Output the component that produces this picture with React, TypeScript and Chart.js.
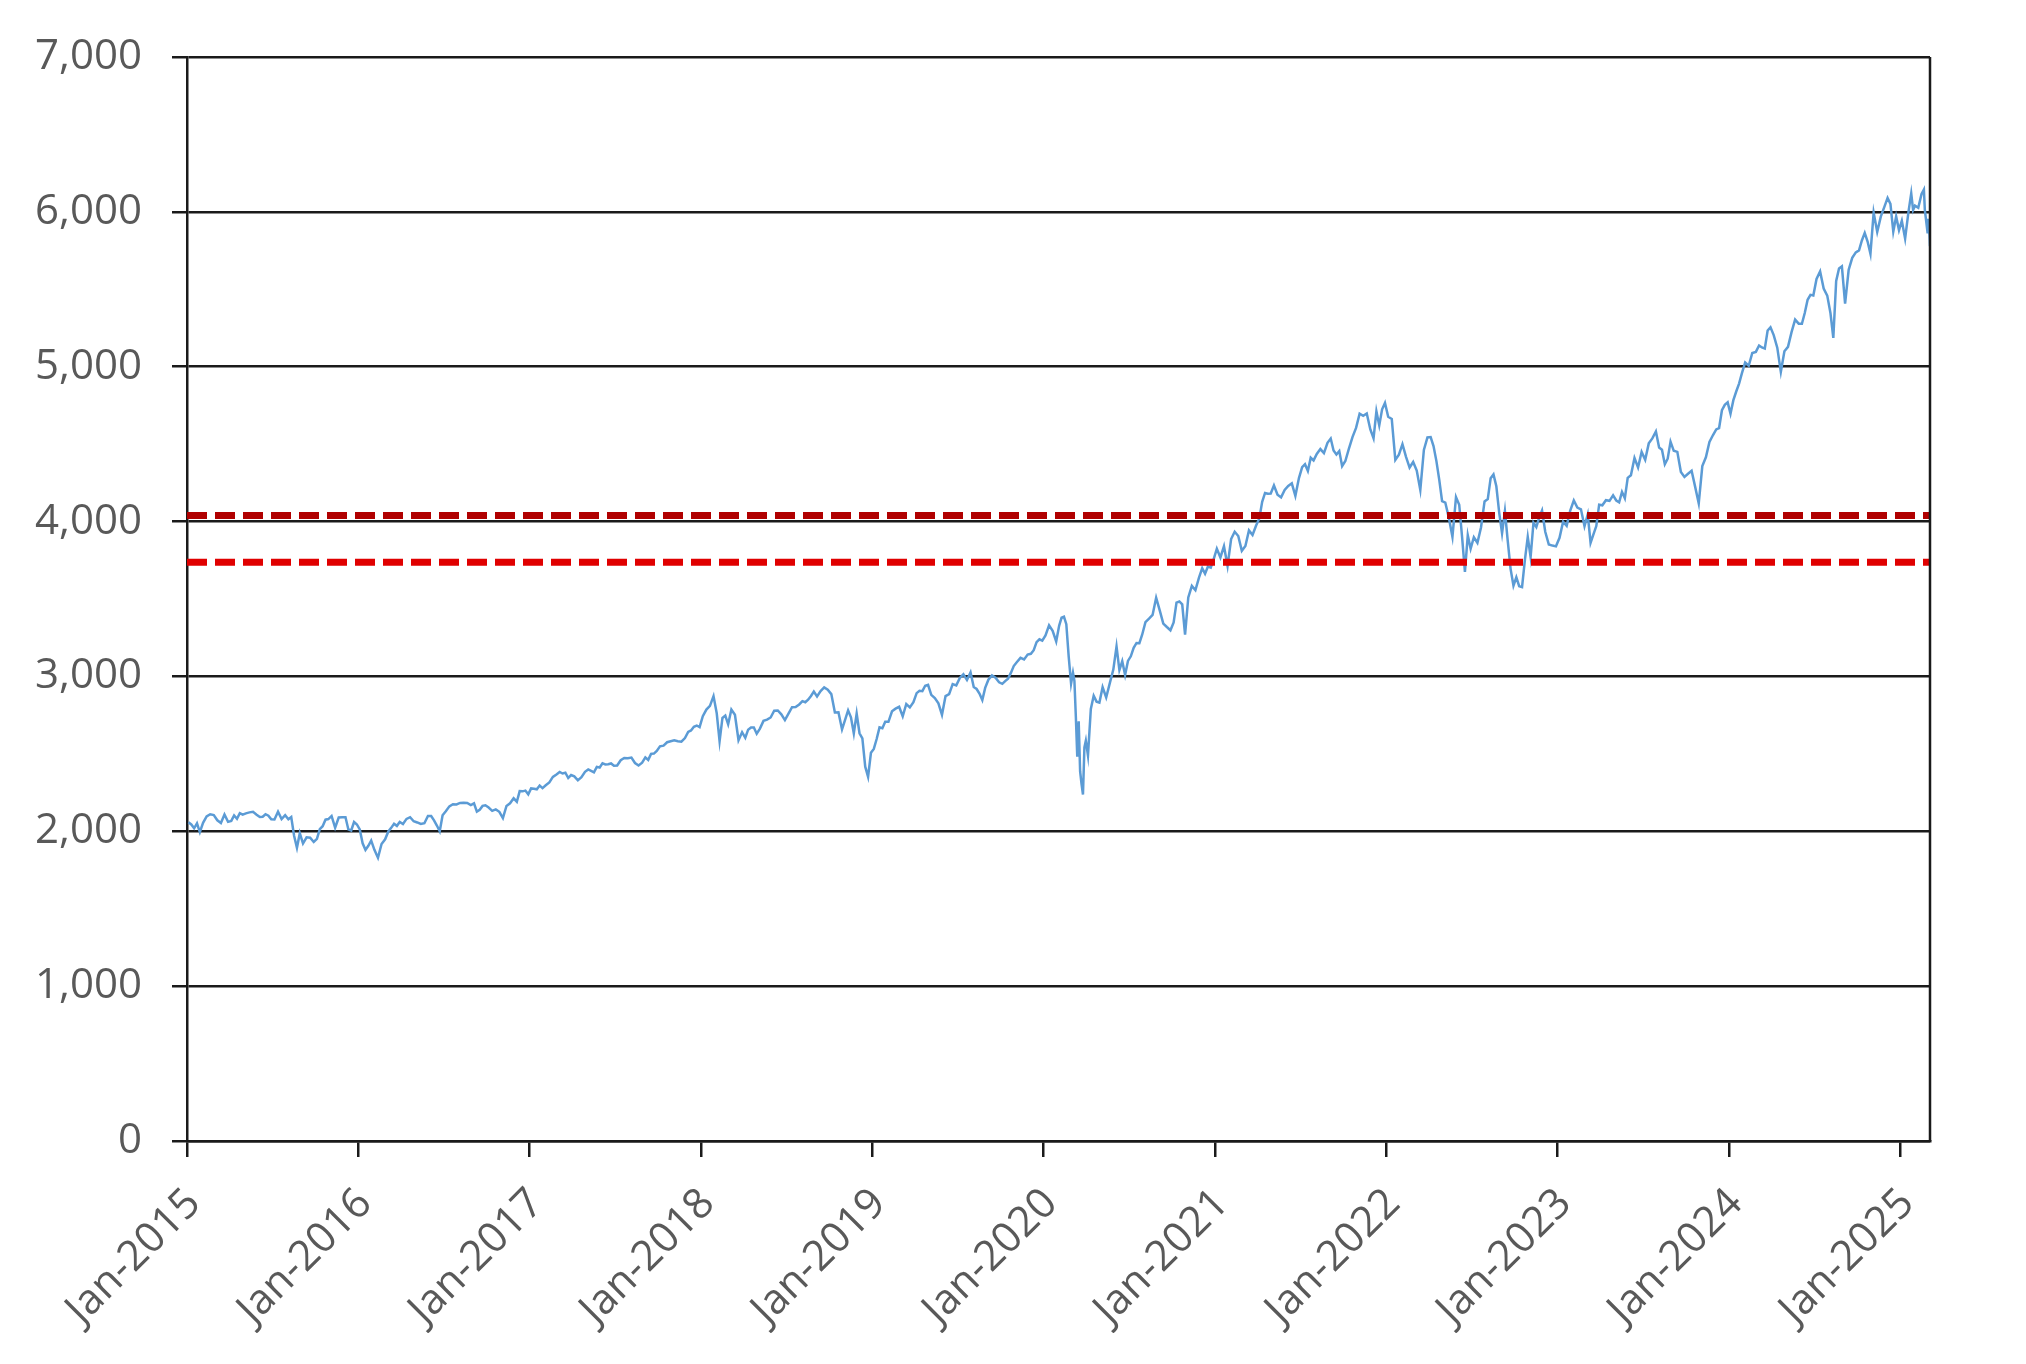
import { useEffect, useRef } from 'react'
import Chart from 'chart.js/auto'

// ─── S&P 500 weekly closes, one inner array per month (Jan..Dec) ────────────────
const spx2015 = [
  [2058, 2044, 2019, 2051, 1995],
  [2055, 2096, 2110, 2105],
  [2071, 2053, 2108, 2061],
  [2067, 2102, 2081, 2117, 2108],
  [2116, 2122, 2126, 2107],
  [2092, 2094, 2110, 2101, 2077],
  [2076, 2126, 2079, 2104],
  [2078, 2092, 1971, 1893, 1988],
  [1921, 1961, 1958, 1931],
  [1951, 2014, 2033, 2075, 2079],
  [2099, 2023, 2089, 2090],
  [2091, 2012, 2005, 2060, 2044],
]
const spx2016 = [
  [2012, 1922, 1880, 1906, 1940],
  [1880, 1829, 1918, 1948],
  [1999, 2022, 2049, 2035, 2060],
  [2047, 2080, 2091, 2065],
  [2057, 2047, 2052, 2099],
  [2099, 2071, 2037, 2000, 2103],
  [2129, 2161, 2175, 2173],
  [2183, 2184, 2183, 2169],
  [2180, 2127, 2139, 2164, 2168],
  [2153, 2132, 2141, 2126],
  [2085, 2164, 2181, 2213],
  [2191, 2259, 2258, 2263, 2239],
]
const spx2017 = [
  [2277, 2275, 2271, 2295, 2279],
  [2297, 2316, 2351, 2367],
  [2383, 2373, 2378, 2344, 2363],
  [2355, 2329, 2349, 2384],
  [2399, 2390, 2381, 2416, 2412],
  [2439, 2432, 2433, 2438, 2423],
  [2425, 2459, 2473, 2472],
  [2476, 2441, 2425, 2443],
  [2477, 2461, 2500, 2502, 2519],
  [2549, 2553, 2575, 2581],
  [2587, 2582, 2579, 2602],
  [2642, 2651, 2675, 2683, 2673],
]
const spx2018 = [
  [2743, 2786, 2810, 2873],
  [2762, 2581, 2732, 2747, 2691],
  [2786, 2752, 2588, 2640],
  [2604, 2656, 2670, 2670, 2630],
  [2663, 2713, 2721, 2735],
  [2779, 2780, 2755, 2718],
  [2760, 2801, 2802, 2819],
  [2840, 2833, 2850, 2874, 2902],
  [2871, 2905, 2929, 2914],
  [2886, 2767, 2768, 2658],
  [2723, 2781, 2736, 2632, 2760],
  [2633, 2600, 2417, 2351, 2507],
]
const spx2019 = [
  [2532, 2596, 2671, 2665, 2707],
  [2707, 2775, 2792, 2804],
  [2743, 2822, 2800, 2834],
  [2892, 2907, 2905, 2940, 2946],
  [2881, 2860, 2826, 2752],
  [2873, 2886, 2950, 2942],
  [2990, 3014, 2977, 3026],
  [2932, 2919, 2889, 2847, 2926],
  [2979, 3007, 2992, 2962],
  [2952, 2970, 2986, 3023, 3067],
  [3093, 3120, 3110, 3141],
  [3146, 3169, 3221, 3240, 3231],
]
const spx2020 = [
  [3265, 3330, 3295, 3226],
  [3328, 3380, 3386, 3337, 3128, 2954],
  [3024, 2972, 2741, 2481, 2711, 2386, 2305, 2237, 2541, 2585],
  [2489, 2790, 2875, 2837, 2831],
  [2930, 2864, 2955, 3044],
  [3194, 3041, 3098, 3009, 3100],
  [3130, 3185, 3216, 3215, 3271],
  [3351, 3373, 3397, 3508],
  [3427, 3341, 3319, 3298],
  [3348, 3477, 3484, 3465, 3270],
  [3510, 3585, 3557, 3638],
  [3699, 3663, 3709, 3703, 3756],
]
const spx2021 = [
  [3825, 3768, 3841, 3714],
  [3887, 3934, 3907, 3811],
  [3842, 3943, 3913, 3975],
  [4020, 4128, 4185, 4180, 4181],
  [4233, 4174, 4156, 4204],
  [4230, 4247, 4166, 4281],
  [4352, 4370, 4327, 4412, 4395],
  [4437, 4468, 4442, 4509],
  [4536, 4459, 4433, 4455, 4358],
  [4391, 4471, 4545, 4605],
  [4697, 4683, 4698, 4595],
  [4538, 4712, 4621, 4725, 4766],
]
const spx2022 = [
  [4677, 4663, 4398, 4432],
  [4500, 4418, 4349, 4385],
  [4329, 4204, 4463, 4543],
  [4546, 4488, 4392, 4271, 4132],
  [4123, 4024, 3901, 4158],
  [4109, 3901, 3675, 3912, 3825],
  [3899, 3863, 3962, 4130],
  [4145, 4280, 4305, 4228, 4058],
  [3924, 4068, 3873, 3693, 3586],
  [3640, 3583, 3577, 3752, 3901],
  [3771, 3993, 3965, 4026, 4072],
  [3934, 3852, 3845, 3840],
]
const spx2023 = [
  [3895, 3999, 3973, 4071],
  [4136, 4090, 4079, 3970],
  [4046, 3862, 3917, 3971, 4109],
  [4105, 4138, 4134, 4169],
  [4136, 4124, 4192, 4151, 4282],
  [4299, 4410, 4349, 4450],
  [4399, 4505, 4537, 4582],
  [4478, 4464, 4370, 4406, 4516],
  [4457, 4450, 4320, 4288],
  [4309, 4328, 4224, 4117],
  [4358, 4415, 4514, 4559],
  [4595, 4604, 4719, 4754, 4770],
]
const spx2024 = [
  [4697, 4784, 4840, 4891, 4959],
  [5027, 5006, 5089, 5096],
  [5137, 5124, 5117, 5234, 5254],
  [5204, 5123, 4967, 5100],
  [5128, 5223, 5304, 5278],
  [5277, 5347, 5432, 5464, 5460],
  [5567, 5615, 5505, 5459],
  [5346, 5186, 5554, 5634, 5648],
  [5408, 5626, 5703, 5738],
  [5751, 5815, 5864, 5808, 5729],
  [5995, 5870, 5969, 6032],
  [6090, 6051, 5872, 5970, 5882],
]
// 2025 is partial: day of year and close
const spx2025Days = [3, 10, 17, 23, 27, 31, 38, 45, 50, 52, 58, 59, 62, 63]
const spx2025 = [5942, 5827, 5997, 6119, 6012, 6040, 6026, 6115, 6144, 6013, 5861, 5955, 5849, 5778]

const monthlyYears: [number, number[][]][] = [
  [2015, spx2015], [2016, spx2016], [2017, spx2017], [2018, spx2018], [2019, spx2019],
  [2020, spx2020], [2021, spx2021], [2022, spx2022], [2023, spx2023], [2024, spx2024],
]

// horizontal reference levels (dashed)
const levels = [4040, 3737]
const levelColors = ['#b00000', '#e00000']

const yTicks = [0, 1000, 2000, 3000, 4000, 5000, 6000, 7000]
const xTickYears = [2015, 2016, 2017, 2018, 2019, 2020, 2021, 2022, 2023, 2024, 2025]

const X_MIN = 2015
const X_MAX = 2025 + spx2025Days[spx2025Days.length - 1] / 365

const AXIS = '#1a1a1a'
const TEXT = '#595959'
const FONT = { family: '"Open Sans", sans-serif', size: 42 }

function buildSeries() {
  const pts: { x: number; y: number }[] = []
  for (const [yr, months] of monthlyYears) {
    months.forEach((vals, m) =>
      vals.forEach((v, k) => pts.push({ x: yr + (m + (k + 0.5) / vals.length) / 12, y: v })),
    )
  }
  spx2025Days.forEach((d, i) => pts.push({ x: 2025 + d / 365, y: spx2025[i] }))
  return pts
}

// Excel-style frame: right edge of the plot area
const frameRight = {
  id: 'frameRight',
  afterDraw(chart: Chart) {
    const { ctx, chartArea: a } = chart
    ctx.save()
    ctx.strokeStyle = AXIS
    ctx.lineWidth = 2.5
    ctx.beginPath()
    ctx.moveTo(a.right, a.top)
    ctx.lineTo(a.right, a.bottom)
    ctx.stroke()
    ctx.restore()
  },
}

export default function App() {
  const canvasRef = useRef<HTMLCanvasElement>(null)

  useEffect(() => {
    const canvas = canvasRef.current
    if (!canvas) return
    const chart = new Chart(canvas, {
      type: 'line',
      data: {
        datasets: [
          ...levels.map((lv, i) => ({
            data: [
              { x: X_MIN, y: lv },
              { x: X_MAX, y: lv },
            ],
            borderColor: levelColors[i],
            borderWidth: 7,
            borderDash: [20, 8],
            pointRadius: 0,
            order: 0,
          })),
          {
            data: buildSeries(),
            borderColor: '#5b9bd5',
            borderWidth: 2.5,
            pointRadius: 0,
            tension: 0,
            order: 1,
          },
        ],
      },
      options: {
        animation: false,
        responsive: false,
        layout: { padding: { top: 57, right: 96, left: 0, bottom: 0 } },
        plugins: { legend: { display: false }, tooltip: { enabled: false } },
        scales: {
          x: {
            type: 'linear',
            min: X_MIN,
            max: X_MAX,
            afterBuildTicks: (s) => {
              s.ticks = xTickYears.map((v) => ({ value: v }))
            },
            afterFit: (s) => {
              s.height = 223
            },
            grid: { drawOnChartArea: false, color: AXIS, lineWidth: 2.5, tickLength: 16 },
            border: { color: AXIS, width: 2.5 },
            ticks: {
              autoSkip: false,
              minRotation: 45,
              maxRotation: 45,
              color: TEXT,
              font: FONT,
              padding: 22,
              labelOffset: 7,
              callback: (v) => `Jan-${v}`,
            },
          },
          y: {
            min: 0,
            max: 7000,
            afterBuildTicks: (s) => {
              s.ticks = yTicks.map((v) => ({ value: v }))
            },
            afterFit: (s) => {
              s.width = 187
            },
            grid: { color: AXIS, lineWidth: 2.5, tickLength: 15 },
            border: { color: AXIS, width: 2.5 },
            ticks: {
              color: TEXT,
              font: FONT,
              padding: 30,
              callback: (v) => Number(v).toLocaleString('en-US'),
            },
          },
        },
      },
      plugins: [frameRight],
    })
    return () => chart.destroy()
  }, [])

  return (
    <div style={{ position: 'absolute', left: 0, top: 0, width: 2026, height: 1364, background: '#fff' }}>
      <canvas ref={canvasRef} width={2026} height={1364} />
    </div>
  )
}
